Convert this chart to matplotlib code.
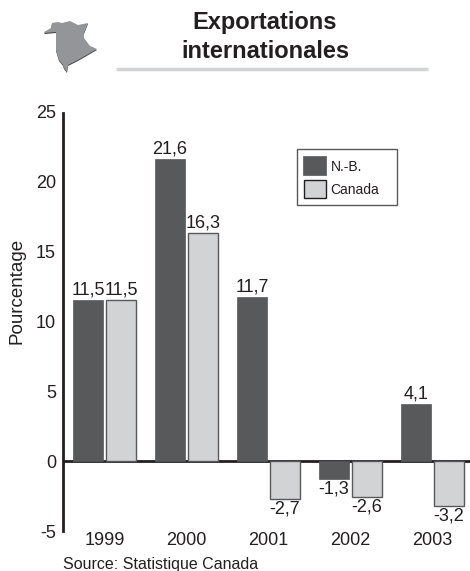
import numpy as np
import matplotlib
matplotlib.use("Agg")
import matplotlib.pyplot as plt
from matplotlib.patches import Polygon, Rectangle

plt.rcParams['font.family'] = ['Liberation Sans', 'DejaVu Sans']

years = ['1999', '2000', '2001', '2002', '2003']
nb = [11.5, 21.6, 11.7, -1.3, 4.1]
canada = [11.5, 16.3, -2.7, -2.6, -3.2]
yticks = [-5, 0, 5, 10, 15, 20, 25]

# outline of the province, in pixels of the picture
map_x = [44, 51, 52, 58, 62, 70, 78, 88, 84, 84, 90, 97, 78, 68, 67, 64, 63, 59, 56, 56, 45]
map_y = [32, 28, 23, 22, 23, 21, 25, 23, 33, 38, 46, 49, 60, 65, 72, 68, 65, 60, 50, 32, 33]

W, H = 470, 571
text_col = '#231f20'
dark = '#58595b'
light = '#d1d3d4'

fig = plt.figure(figsize=(W / 100, H / 100), dpi=100)

# background layer in pixels for the header
bg = fig.add_axes([0, 0, 1, 1])
bg.set_xlim(0, W)
bg.set_ylim(H, 0)
bg.axis('off')
outline = np.column_stack([map_x, map_y])
bg.add_patch(Polygon(outline + [0, 1], closed=True, fc='#414042', ec='none'))
bg.add_patch(Polygon(outline, closed=True, fc='#939598', ec='none'))
bg.plot([116, 428], [69, 69], color='#d1d3d4', lw=2.5, solid_capstyle='butt')
bg.text(265, 23, 'Exportations', ha='center', va='center', fontsize=17, fontweight='bold', color=text_col)
bg.text(265, 52, 'internationales', ha='center', va='center', fontsize=17, fontweight='bold', color=text_col)
bg.text(63, 564.5, 'Source: Statistique Canada', ha='left', va='center', fontsize=11.5, color=text_col)
bg.text(17, 291, 'Pourcentage', ha='center', va='center', rotation=90, fontsize=13.5, color=text_col)

# chart axes
left, right, top, bottom = 63, 470, 111, 531
ax = fig.add_axes([left / W, 1 - bottom / H, (right - left) / W, (bottom - top) / H])
ax.patch.set_alpha(0)
x = np.arange(len(years))
width = 0.375
off = 0.2
ax.set_xlim((left - 104.5) / 82, (right - 104.5) / 82)
ax.set_ylim(-5, 25)
ax.bar(x - off, nb, width, color=dark, edgecolor=dark, lw=0.5, zorder=2)
ax.bar(x + off, canada, width, color=light, edgecolor='#58595b', lw=1, zorder=2)
ax.axhline(0, color=text_col, lw=2, zorder=1)

for i in range(len(years)):
    for xi, v in ((x[i] - off, nb[i]), (x[i] + off, canada[i])):
        label = str(v).replace('.', ',')
        if v >= 0:
            ax.annotate(label, (xi, v), xytext=(0, 1), textcoords='offset points', ha='center', va='bottom', fontsize=13, color=text_col)
        else:
            ax.annotate(label, (xi, v), xytext=(0, -1), textcoords='offset points', ha='center', va='top', fontsize=13, color=text_col)
    ax.annotate(years[i], (x[i], -5), xytext=(0, -1), textcoords='offset points', ha='center', va='top', fontsize=13, color=text_col, annotation_clip=False)

for s in ['top', 'right', 'bottom']:
    ax.spines[s].set_visible(False)
ax.spines['left'].set_linewidth(2)
ax.spines['left'].set_color(text_col)
ax.spines['left'].set_bounds(-5, 24.85)
ax.set_xticks([])
ax.set_yticks(yticks)
ax.set_yticklabels([str(t) for t in yticks])
ax.tick_params(axis='y', length=0, pad=5, labelsize=13, labelcolor=text_col)

# legend box
bg.add_patch(Rectangle((297, 149), 100, 56, fc='white', ec='#58595b', lw=1))
bg.add_patch(Rectangle((303, 156), 23, 19, fc=dark, ec=dark, lw=0.5))
bg.add_patch(Rectangle((304, 180), 22, 18, fc=light, ec=text_col, lw=1))
bg.text(331, 167, 'N.-B.', va='center', fontsize=10, color=text_col)
bg.text(330, 190, 'Canada', va='center', fontsize=10, color=text_col)

fig.savefig('out.png', dpi=100)
